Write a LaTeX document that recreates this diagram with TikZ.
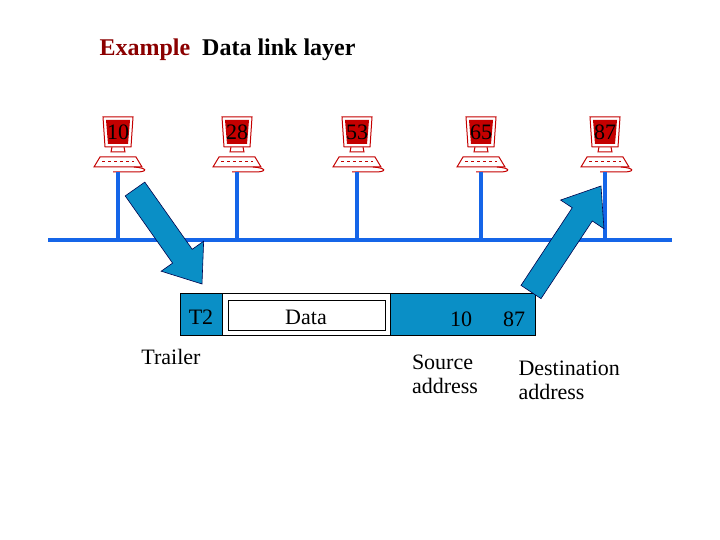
\documentclass[tikz,border=0pt]{standalone}
\usepackage{fontspec}
\setmainfont{Liberation Serif}
\usetikzlibrary{calc}
\definecolor{busblue}{HTML}{1565E8}
\definecolor{boxblue}{HTML}{0A8FC6}
\definecolor{pcred}{HTML}{C40000}
\definecolor{titlered}{HTML}{8B0000}
\tikzset{
  bus/.style={busblue, line width=4pt},
  frame/.style={draw=black, line width=0.8pt},
  lbl/.style={font=\fontsize{22}{24}\selectfont, align=left},
  blockarrow/.style={fill=boxblue, draw=black!70!blue, line width=0.6pt},
  computer/.pic={
    \draw[pcred, line width=1pt, fill=white] (-15,-18) -- (15,-18) -- (13,12) -- (-13,12) -- cycle;
    \fill[pcred] (-12,-15) -- (12,-15) -- (10,9) -- (-10,9) -- cycle;
    \draw[pcred, line width=1pt] (-6,12) -- (-7,17) -- (7,17) -- (6,12);
    \draw[pcred, line width=1pt, fill=white] (-24,32) -- (-18,22) -- (18,22) -- (24,32) -- cycle;
    \draw[pcred, line width=0.6pt, dashed] (-16,26) -- (16,26);
    \draw[pcred, line width=1pt] (16,32) .. controls (30,33) and (30,37) .. (18,37) -- (-5,37);
  }
}
\newcommand{\blockarrow}[2]{%
  \fill[blockarrow] ($(#1)!12pt!90:(#2)$) -- ($($(#2)!34pt!(#1)$)!12pt!-90:(#1)$)
    -- ($($(#2)!34pt!(#1)$)!26pt!-90:(#1)$) -- (#2)
    -- ($($(#2)!34pt!(#1)$)!26pt!90:(#1)$) -- ($($(#2)!34pt!(#1)$)!12pt!90:(#1)$)
    -- ($(#1)!12pt!-90:(#2)$) -- cycle;}
\begin{document}
\begin{tikzpicture}[x=1pt, y=-1pt]
  \useasboundingbox (0,0) rectangle (720,540);

  % Title
  \node[anchor=west, font=\bfseries\fontsize{24}{26}\selectfont] (title) at (96,50)
    {\textcolor{titlered}{Example}\ \ Data link layer};

  % Bus and stations
  \draw[bus] (48,240) coordinate (busL) -- (672,240) coordinate (busR);
  \foreach \x/\n in {118/10, 237/28, 357/53, 481/65, 605/87} {
    \pic at (\x,135) {computer};
    \node[font=\fontsize{22}{24}\selectfont] (pc\n) at (\x,132) {\n};
    \coordinate (st\n) at (\x,172);
    \draw[bus] (st\n) -- (\x,240);
  }

  % Frame
  \fill[boxblue] (180,293) rectangle (222,335);
  \fill[boxblue] (390,293) rectangle (535,335);
  \draw[frame] (180,293) rectangle (535,335);
  \draw[frame] (222,293) -- (222,335);
  \draw[frame] (390,293) -- (390,335);
  \draw[frame] (228,300) rectangle (385,330);
  \node[lbl] (t2) at (201,317) {T2};
  \node[lbl] (data) at (306,317) {Data};
  \node[lbl] (src) at (461,319) {10};
  \node[lbl] (dst) at (514,319) {87};

  % Labels
  \node[lbl] (trailer) at (171,357) {Trailer};
  \node[lbl] (srcaddr) at (445,374) {Source\\address};
  \node[lbl, anchor=west] (dstaddr) at (515,380) {Destination\\address};

  % Block arrows
  \coordinate (a1) at (135,189);
  \coordinate (b1) at (202,284);
  \coordinate (a2) at (531,292);
  \coordinate (b2) at (601,186);
  \blockarrow{a1}{b1}
  \blockarrow{a2}{b2}
\end{tikzpicture}
\end{document}
